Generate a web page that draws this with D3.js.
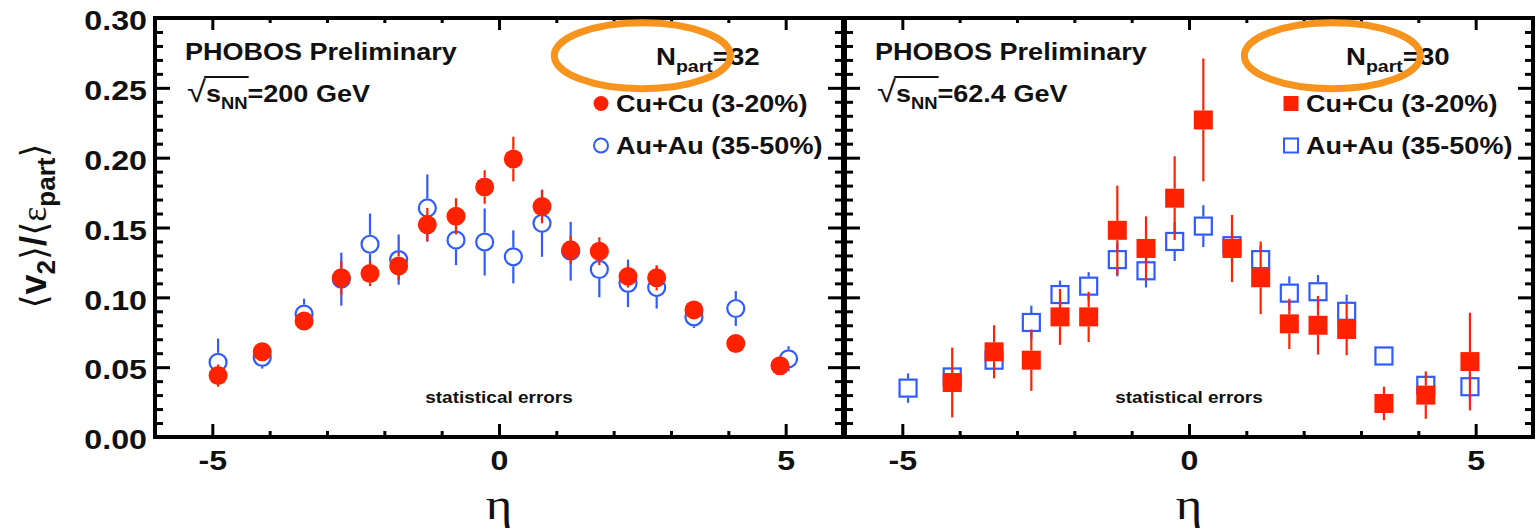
<!DOCTYPE html>
<html>
<head>
<meta charset="utf-8">
<title>PHOBOS v2 / eps_part vs eta</title>
<script src="https://cdn.jsdelivr.net/npm/d3@7"></script>
<style>
    body { margin: 0; background: #fff; }
    svg text { font-family: "Liberation Sans", Arial, sans-serif; font-weight: bold; fill: #111; }
    .frame { fill: none; stroke: #000; stroke-width: 4px; }
    .tick line { stroke: #000; stroke-width: 3px; }
    .domain { display: none; }
</style>
</head>
<body>
<script>
// ---- data ----
// 200 GeV panel
const etaCu200 = [-4.9, -4.13, -3.4, -2.75, -2.25, -1.75, -1.25, -0.75, -0.25, 0.25, 0.75, 1.25, 1.75, 2.25, 2.75, 3.4, 4.13, 4.9];
const v2Cu200  = [0.044, 0.061, 0.083, 0.114, 0.117, 0.1225, 0.152, 0.158, 0.179, 0.199, 0.165, 0.134, 0.133, 0.115, 0.114, 0.091, 0.067, 0.051];
const errCu200 = [0.008, 0.005, 0.004, 0.012, 0.009, 0.010, 0.012, 0.013, 0.012, 0.016, 0.012, 0.010, 0.010, 0.008, 0.009, 0.004, 0.004, 0.004];

const etaAu200 = [-4.9, -4.13, -3.4, -2.75, -2.25, -1.75, -1.25, -0.75, -0.25, 0.25, 0.75, 1.25, 1.75, 2.25, 2.75, 3.4, 4.13, 5.05];
const v2Au200  = [0.0535, 0.057, 0.088, 0.113, 0.138, 0.127, 0.164, 0.141, 0.1396, 0.129, 0.153, 0.133, 0.120, 0.110, 0.107, 0.086, 0.092, 0.056];
const errAu200 = [0.017, 0.008, 0.011, 0.019, 0.022, 0.018, 0.024, 0.018, 0.024, 0.019, 0.024, 0.021, 0.020, 0.017, 0.015, 0.008, 0.0125, 0.009];

// 62.4 GeV panel
const etaCu62 = [-4.13, -3.4, -2.75, -2.25, -1.75, -1.25, -0.75, -0.25, 0.25, 0.75, 1.25, 1.75, 2.25, 2.75, 3.4, 4.13, 4.9];
const v2Cu62  = [0.039, 0.061, 0.055, 0.086, 0.086, 0.148, 0.135, 0.171, 0.227, 0.135, 0.114, 0.081, 0.080, 0.077, 0.024, 0.030, 0.054];
const errCu62 = [0.025, 0.019, 0.022, 0.020, 0.018, 0.032, 0.023, 0.030, 0.044, 0.024, 0.026, 0.018, 0.021, 0.0185, 0.012, 0.017, 0.035];

const etaAu62 = [-4.9, -4.13, -3.4, -2.75, -2.25, -1.75, -1.25, -0.75, -0.25, 0.25, 0.75, 1.25, 1.75, 2.25, 2.75, 3.4, 4.13, 4.9];
const v2Au62  = [0.035, 0.043, 0.055, 0.082, 0.102, 0.108, 0.127, 0.119, 0.140, 0.151, 0.137, 0.127, 0.103, 0.104, 0.090, 0.058, 0.037, 0.036];
const errAu62 = [0.0105, 0.006, 0.006, 0.012, 0.010, 0.010, 0.012, 0.012, 0.014, 0.015, 0.012, 0.010, 0.012, 0.012, 0.012, 0.004, 0.006, 0.010];

const xMajor = [-5, 0, 5];
const xMinor = [-6, -4, -3, -2, -1, 1, 2, 3, 4, 6];
const yMajor = [0, 0.05, 0.10, 0.15, 0.20, 0.25, 0.30];
const yMinor = d3.range(0, 0.301, 0.01).filter(v => Math.round(v * 100) % 5 !== 0);

const legendCu = 'Cu+Cu (3-20%)';
const legendAu = 'Au+Au (35-50%)';

// ---- layout ----
const width = 1536, height = 530;
const plotTop = 18, plotBottom = 437, panelW = 688;
const panelX = [155, 845];
const red = '#ff2200', blue = '#2f5bff', orange = '#f7941d';
const stretch = 'scale(1.15,1)';

const svg = d3.select('body').append('svg')
    .attr('width', width)
    .attr('height', height);

const x = d3.scaleLinear().domain([-6, 6]).range([0, panelW]);
const y = d3.scaleLinear().domain([0, 0.30]).range([plotBottom, plotTop]);

// stretched bold text helper
function label(g, px, py, size, anchor) {
    return g.append('text')
        .attr('transform', 'translate(' + px + ',' + py + ') ' + stretch)
        .style('font-size', size + 'px')
        .style('text-anchor', anchor || 'start');
}

function drawAxes(g, withLabels) {
    // bottom
    const bot = g.append('g').attr('transform', 'translate(0,' + plotBottom + ')')
        .call(d3.axisBottom(x).tickValues(xMajor).tickSize(-13).tickSizeOuter(0)
            .tickPadding(13).tickFormat(d => String(d)));
    bot.selectAll('text').style('font-size', '28px').attr('transform', stretch);
    g.append('g').attr('transform', 'translate(0,' + plotBottom + ')')
        .call(d3.axisBottom(x).tickValues(xMinor).tickSize(-6).tickSizeOuter(0).tickFormat(''));
    // top
    g.append('g').attr('transform', 'translate(0,' + plotTop + ')')
        .call(d3.axisTop(x).tickValues(xMajor).tickSize(-12).tickSizeOuter(0).tickFormat(''));
    g.append('g').attr('transform', 'translate(0,' + plotTop + ')')
        .call(d3.axisTop(x).tickValues(xMinor).tickSize(-5).tickSizeOuter(0).tickFormat(''));
    // left
    const left = g.append('g')
        .call(d3.axisLeft(y).tickValues(yMajor).tickSize(-15).tickSizeOuter(0)
            .tickPadding(7).tickFormat(withLabels ? d3.format('.2f') : ''));
    left.selectAll('text').style('font-size', '28px').attr('dy', '0.42em').attr('transform', stretch);
    g.append('g')
        .call(d3.axisLeft(y).tickValues(yMinor).tickSize(-8).tickSizeOuter(0).tickFormat(''));
    // right
    g.append('g').attr('transform', 'translate(' + panelW + ',0)')
        .call(d3.axisRight(y).tickValues(yMajor).tickSize(-15).tickSizeOuter(0).tickFormat(''));
    g.append('g').attr('transform', 'translate(' + panelW + ',0)')
        .call(d3.axisRight(y).tickValues(yMinor).tickSize(-8).tickSizeOuter(0).tickFormat(''));

    g.append('rect').attr('class', 'frame')
        .attr('x', 0).attr('y', plotTop)
        .attr('width', panelW).attr('height', plotBottom - plotTop);
}

// error bars are drawn only outside the marker, like ROOT does
function drawSeries(g, eta, v2, err, color, shape, filled) {
    const r = 9.5;
    const pts = eta.map((e, i) => ({ e: e, v: v2[i], err: err[i] }));
    const bars = g.append('g').attr('stroke', color).attr('stroke-width', 2.2);
    pts.forEach(d => {
        const cx = x(d.e), cy = y(d.v);
        const yt = y(d.v + d.err), yb = y(d.v - d.err);
        if (yt < cy - r) bars.append('line').attr('x1', cx).attr('x2', cx).attr('y1', yt).attr('y2', cy - r);
        if (yb > cy + r) bars.append('line').attr('x1', cx).attr('x2', cx).attr('y1', cy + r).attr('y2', yb);
    });
    const marks = g.append('g').selectAll('.mk').data(pts).enter();
    if (shape === 'circle') {
        marks.append('circle')
            .attr('cx', d => x(d.e)).attr('cy', d => y(d.v))
            .attr('r', filled ? r : r - 1)
            .attr('fill', filled ? color : 'none')
            .attr('stroke', filled ? 'none' : color)
            .attr('stroke-width', 2.2);
    } else {
        const s = filled ? 2 * r : 2 * r - 2;
        marks.append('rect')
            .attr('x', d => x(d.e) - s / 2).attr('y', d => y(d.v) - s / 2)
            .attr('width', s).attr('height', s)
            .attr('fill', filled ? color : 'none')
            .attr('stroke', filled ? 'none' : color)
            .attr('stroke-width', 2.2);
    }
}

function legendMark(g, cx, cy, color, shape, filled) {
    if (shape === 'circle') {
        g.append('circle').attr('cx', cx).attr('cy', cy).attr('r', filled ? 7.5 : 7)
            .attr('fill', filled ? color : 'none').attr('stroke', filled ? 'none' : color).attr('stroke-width', 2);
    } else {
        const s = filled ? 15 : 14;
        g.append('rect').attr('x', cx - s / 2).attr('y', cy - s / 2).attr('width', s).attr('height', s)
            .attr('fill', filled ? color : 'none').attr('stroke', filled ? 'none' : color).attr('stroke-width', 2);
    }
}

const panels = [
    { energy: '200 GeV', npart: '32', shape: 'circle',
      cu: [etaCu200, v2Cu200, errCu200], au: [etaAu200, v2Au200, errAu200] },
    { energy: '62.4 GeV', npart: '30', shape: 'square',
      cu: [etaCu62, v2Cu62, errCu62], au: [etaAu62, v2Au62, errAu62] }
];

panels.forEach((p, i) => {
    const g = svg.append('g').attr('transform', 'translate(' + panelX[i] + ',0)');

    drawAxes(g, i === 0);

    // data: Au+Au underneath, Cu+Cu on top
    drawSeries(g, p.au[0], p.au[1], p.au[2], blue, p.shape, false);
    drawSeries(g, p.cu[0], p.cu[1], p.cu[2], red, p.shape, true);

    // texts
    label(g, 30, 60, 23.5).text('PHOBOS Preliminary');

    const sq = g.append('g').attr('transform', 'translate(32,102) ' + stretch);
    const st = sq.append('text');
    st.append('tspan').style('font-weight', 'normal').style('font-size', '30px').text('\u221A');
    st.append('tspan').style('font-size', '23.5px').text('s');
    st.append('tspan').style('font-size', '16px').attr('dy', 7).text('NN');
    st.append('tspan').style('font-size', '23.5px').attr('dy', -7).text('=' + p.energy);
    const n = st.node();
    const x1 = n.getSubStringLength(0, 1) - 1.5;
    const x2 = n.getSubStringLength(0, 4) + 1;
    sq.append('line').attr('x1', x1).attr('x2', x2).attr('y1', -25).attr('y2', -25)
        .attr('stroke', '#111').attr('stroke-width', 2);

    const np = label(g, 501, 65, 24);
    np.append('tspan').text('N');
    np.append('tspan').style('font-size', '17px').attr('dy', 7).text('part');
    np.append('tspan').attr('dy', -7).text('=' + p.npart);

    legendMark(g, 446, 103.5, red, p.shape, true);
    label(g, 461, 112, 23.5).text(legendCu);
    legendMark(g, 446, 145.5, blue, p.shape, false);
    label(g, 461, 154, 23.5).text(legendAu);

    label(g, x(0), 403, 16.5, 'middle').text('statistical errors');

    // eta axis title
    g.append('text')
        .attr('transform', 'translate(' + x(0) + ',519) ' + stretch)
        .style('font-family', '"Liberation Serif", serif')
        .style('font-weight', 'normal')
        .style('font-size', '44px')
        .style('text-anchor', 'middle')
        .text('\u03B7');

    // orange highlight ring drawn over the N_part label
    g.append('ellipse')
        .attr('cx', x(2.5)).attr('cy', y(0.273))
        .attr('rx', 88).attr('ry', 33)
        .attr('fill', 'none')
        .attr('stroke', orange)
        .attr('stroke-width', 7);
});

// y axis title  <v2>/<eps_part>
const yt = svg.append('text')
    .attr('transform', 'translate(46,226) rotate(-90)')
    .style('text-anchor', 'middle')
    .style('font-size', '36px');
yt.append('tspan').style('font-family', '"DejaVu Sans", sans-serif').style('font-weight', 'normal').text('\u27E8');
yt.append('tspan').text('v');
yt.append('tspan').style('font-size', '26px').attr('dy', 9).text('2');
yt.append('tspan').style('font-family', '"DejaVu Sans", sans-serif').style('font-weight', 'normal').attr('dy', -9).text('\u27E9');
yt.append('tspan').text('/');
yt.append('tspan').style('font-family', '"DejaVu Sans", sans-serif').style('font-weight', 'normal').text('\u27E8');
yt.append('tspan').style('font-family', '"Liberation Serif", serif').style('font-weight', 'normal').text('\u03B5');
yt.append('tspan').style('font-size', '26px').attr('dy', 9).text('part');
yt.append('tspan').style('font-family', '"DejaVu Sans", sans-serif').style('font-weight', 'normal').attr('dy', -9).text('\u27E9');
</script>
</body>
</html>
